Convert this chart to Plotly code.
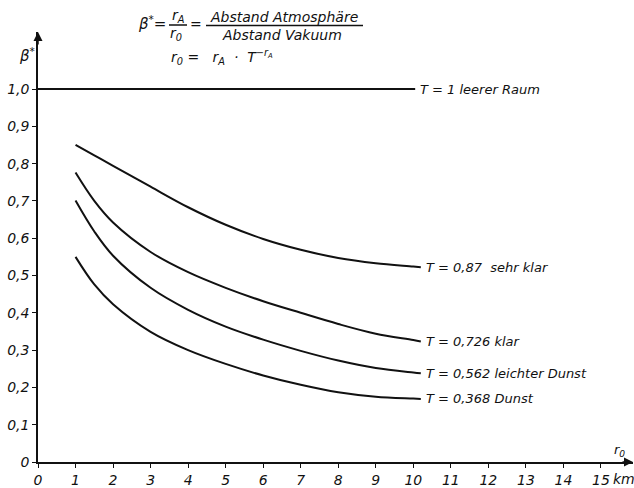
import plotly.graph_objects as go

# ---- data ----
r0_km = [1, 1.5, 2, 3, 4, 5, 6, 7, 8, 9, 10, 10.2]
beta_087 = [0.850, 0.822, 0.794, 0.738, 0.683, 0.636, 0.598, 0.569, 0.547, 0.533, 0.524, 0.522]
beta_0726 = [0.776, 0.700, 0.642, 0.563, 0.509, 0.467, 0.431, 0.400, 0.370, 0.344, 0.327, 0.323]
beta_0562 = [0.701, 0.618, 0.553, 0.467, 0.408, 0.363, 0.328, 0.298, 0.272, 0.252, 0.240, 0.238]
beta_0368 = [0.550, 0.476, 0.423, 0.349, 0.300, 0.263, 0.232, 0.207, 0.187, 0.175, 0.170, 0.169]
vac_x = [0, 10.05]
vac_y = [1.0, 1.0]

series = [
    (vac_x, vac_y, "T = 1 leerer Raum"),
    (r0_km, beta_087, "T = 0,87  sehr klar"),
    (r0_km, beta_0726, "T = 0,726 klar"),
    (r0_km, beta_0562, "T = 0,562 leichter Dunst"),
    (r0_km, beta_0368, "T = 0,368 Dunst"),
]

x_ticks = list(range(0, 16))
x_ticktext = [str(v) for v in x_ticks]
y_ticks = [0, 0.1, 0.2, 0.3, 0.4, 0.5, 0.6, 0.7, 0.8, 0.9, 1.0]
y_ticktext = ["0", "0,1", "0,2", "0,3", "0,4", "0,5", "0,6", "0,7", "0,8", "0,9", "1,0"]

# ---- layout geometry ----
W, H = 634, 488
L, R, T, B = 38, 1, 32, 26
PW, PH = W - L - R, H - T - B
X_MAX = PW / 37.53
Y_MAX = PH / 373.0

FONT = "DejaVu Sans"
INK = "#111111"


def px(x):
    return (x - L) / PW


def py(y):
    return (H - B - y) / PH


def ital(labels):
    return ["<i>" + s + "</i>" for s in labels]


fig = go.Figure()
for xs, ys, name in series:
    fig.add_trace(go.Scatter(x=xs, y=ys, mode="lines", name=name,
                             line=dict(color=INK, width=2, shape="spline", smoothing=1.0),
                             hoverinfo="skip"))
    fig.add_annotation(x=xs[-1], y=ys[-1], xref="x", yref="y", text=name,
                       showarrow=False, xanchor="left", yanchor="middle", xshift=3,
                       font=dict(family=FONT, size=13, color=INK, style="italic"))

ann_font = dict(family=FONT, size=14, color=INK, style="italic")


def label(x, y, text, xanchor="center", size=14):
    f = dict(ann_font)
    f["size"] = size
    fig.add_annotation(x=px(x), y=py(y), xref="paper", yref="paper", text=text,
                       showarrow=False, xanchor=xanchor, yanchor="middle", font=f)


# formula block
label(136, 23, "β<sup>*</sup>=", xanchor="left", size=15)
label(178, 16, "r<sub>A</sub>", size=14)
label(176, 34, "r<sub>0</sub>", size=14)
label(196, 24, "=", size=14)
label(284, 17, "Abstand Atmosphäre", size=14)
label(282, 35, "Abstand Vakuum", size=14)
label(169, 57, "r<sub>0</sub> =   r<sub>A</sub>  ·  T<sup>−r<sub>A</sub></sup>", xanchor="left", size=14)
fig.add_shape(type="line", xref="paper", yref="paper", x0=px(169), x1=px(187), y0=py(25), y1=py(25),
              line=dict(color=INK, width=1.5))
fig.add_shape(type="line", xref="paper", yref="paper", x0=px(206), x1=px(363), y0=py(25.5), y1=py(25.5),
              line=dict(color=INK, width=1.5))

# axis names
label(27, 55, "β<sup>*</sup>", size=15)
label(619, 450, "r<sub>0</sub>", size=13)
label(611, 479, "km", xanchor="left", size=14)

# axis arrowheads
fig.add_annotation(x=X_MAX, y=0, xref="x", yref="y", ax=-12, ay=0, text="", showarrow=True,
                   arrowhead=2, arrowsize=1.2, arrowwidth=1.5, arrowcolor=INK, standoff=0)
fig.add_annotation(x=0, y=Y_MAX, xref="x", yref="y", ax=0, ay=14, text="", showarrow=True,
                   arrowhead=2, arrowsize=1.2, arrowwidth=1.5, arrowcolor=INK, standoff=0)

fig.update_layout(
    width=W, height=H,
    margin=dict(l=L, r=R, t=T, b=B, pad=0, autoexpand=False),
    paper_bgcolor="white", plot_bgcolor="white",
    showlegend=False,
    font=dict(family=FONT, size=14, color=INK, style="italic"),
    xaxis=dict(range=[0, X_MAX], tickvals=x_ticks, ticktext=ital(x_ticktext), automargin=False,
               showgrid=False, zeroline=False, showline=True, linecolor=INK, linewidth=1.5,
               ticks="outside", ticklen=4, tickwidth=1.2, tickcolor=INK,
               tickfont=dict(family=FONT, size=14, color=INK, style="italic")),
    yaxis=dict(range=[0, Y_MAX], tickvals=y_ticks, ticktext=ital(y_ticktext), automargin=False,
               showgrid=False, zeroline=False, showline=True, linecolor=INK, linewidth=1.5,
               ticks="outside", ticklen=4, tickwidth=1.2, tickcolor=INK,
               tickfont=dict(family=FONT, size=14, color=INK, style="italic")),
)

fig.write_html("out.html", config={"displayModeBar": False},
               post_script="document.body.style.margin='0px';document.body.style.overflow='hidden';")
